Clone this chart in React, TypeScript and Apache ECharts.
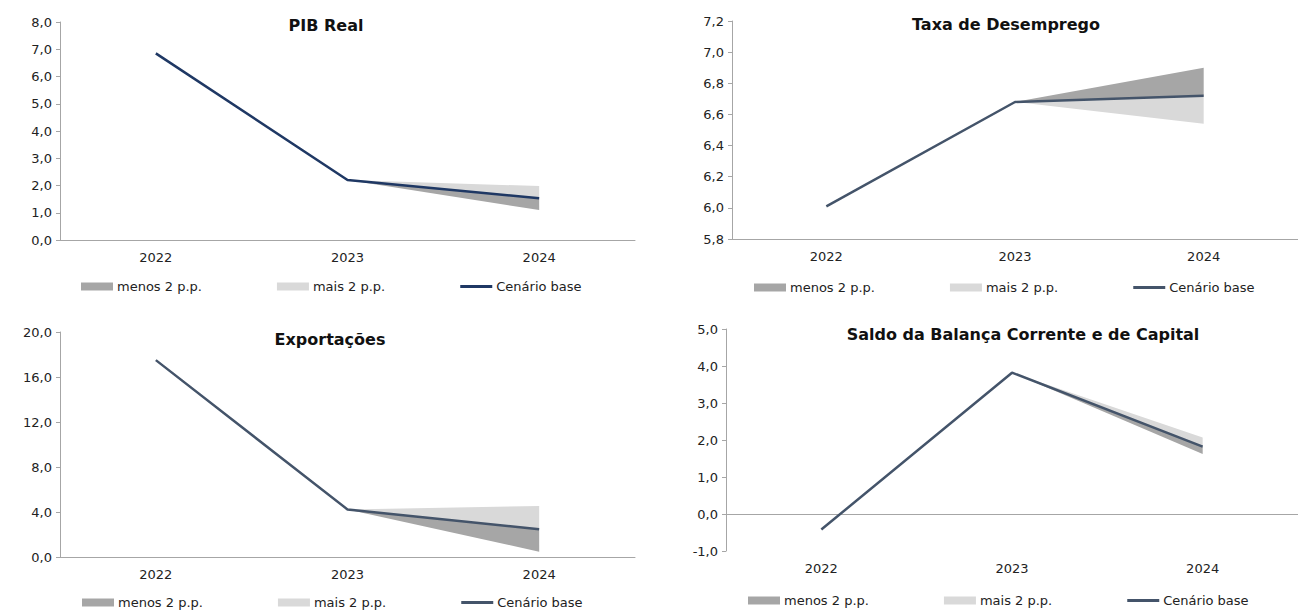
import React, { useEffect, useRef } from "react";
import * as echarts from "echarts";

const years = ["2022", "2023", "2024"];

const pibBase = [6.85, 2.2, 1.53];
const pibMenos = [null, 2.2, 1.1];
const pibMais = [null, 2.2, 1.98];

const desBase = [6.01, 6.68, 6.72];
const desMenos = [null, 6.68, 6.9];
const desMais = [null, 6.68, 6.54];

const expBase = [17.5, 4.23, 2.47];
const expMenos = [null, 4.23, 0.47];
const expMais = [null, 4.23, 4.53];

const balBase = [-0.42, 3.82, 1.82];
const balMenos = [null, 3.82, 1.62];
const balMais = [null, 3.82, 2.07];

const titles = ["PIB Real", "Taxa de Desemprego", "Exportações", "Saldo da Balança Corrente e de Capital"];
const legendNames = ["menos 2 p.p.", "mais 2 p.p.", "Cenário base"];

const FONT = "DejaVu Sans";
const DARK = "#a6a6a6";
const LIGHT = "#d9d9d9";
const AXIS = "#a6a6a6";
const TEXT = "#222222";

const panels = [
  { base: pibBase, menos: pibMenos, mais: pibMais, min: 0, max: 8, interval: 1, line: "#1f3864",
    grid: { left: 60, top: 22, width: 575, height: 218 }, title: [326, 25], legend: [81, 280], zeroLine: false },
  { base: desBase, menos: desMenos, mais: desMais, min: 5.8, max: 7.2, interval: 0.2, line: "#44546a",
    grid: { left: 732, top: 21, width: 581, height: 218 }, title: [1006, 24], legend: [754, 281], zeroLine: false },
  { base: expBase, menos: expMenos, mais: expMais, min: 0, max: 20, interval: 4, line: "#44546a",
    grid: { left: 60, top: 332, width: 575, height: 225 }, title: [330, 339], legend: [82, 596], zeroLine: false },
  { base: balBase, menos: balMenos, mais: balMais, min: -1, max: 5, interval: 1, line: "#44546a",
    grid: { left: 726, top: 329, width: 582, height: 222 }, title: [1023, 334], legend: [748, 594], zeroLine: true },
];

function fmt(v: number) {
  return v.toFixed(1).replace(".", ",");
}

function buildOption() {
  const grid: any[] = [];
  const xAxis: any[] = [];
  const yAxis: any[] = [];
  const series: any[] = [];
  const legend: any[] = [];
  const graphic: any[] = [];

  panels.forEach((p, i) => {
    grid.push({ ...p.grid, containLabel: false });
    xAxis.push({
      type: "category",
      gridIndex: i,
      data: years,
      boundaryGap: true,
      axisTick: { show: false },
      axisLine: { show: !p.zeroLine, onZero: false, lineStyle: { color: AXIS, width: 1 } },
      axisLabel: { color: TEXT, fontSize: 13, fontFamily: FONT, margin: 11 },
      splitLine: { show: false },
    });
    yAxis.push({
      type: "value",
      gridIndex: i,
      min: p.min,
      max: p.max,
      interval: p.interval,
      axisLine: { show: true, lineStyle: { color: AXIS, width: 1 } },
      axisTick: { show: true, length: 4, lineStyle: { color: AXIS } },
      axisLabel: { color: TEXT, fontSize: 13, fontFamily: FONT, margin: 8, formatter: (v: number) => fmt(v) },
      splitLine: { show: false },
    });

    const menosBelow = (p.menos[2] as number) < p.base[2];
    const lowArr = menosBelow ? p.menos : p.mais;
    const lowName = menosBelow ? legendNames[0] : legendNames[1];
    const lowColor = menosBelow ? DARK : LIGHT;
    const highArr = menosBelow ? p.mais : p.menos;
    const highName = menosBelow ? legendNames[1] : legendNames[0];
    const highColor = menosBelow ? LIGHT : DARK;
    const stack = "band" + i;

    series.push({
      type: "line",
      name: "helper" + i,
      xAxisIndex: i,
      yAxisIndex: i,
      stack,
      data: lowArr.map((v) => (v == null ? "-" : v)),
      showSymbol: false,
      symbol: "none",
      lineStyle: { opacity: 0, width: 0 },
      silent: true,
      z: 1,
    });
    series.push({
      type: "line",
      name: lowName,
      xAxisIndex: i,
      yAxisIndex: i,
      stack,
      data: lowArr.map((v, k) => (v == null ? "-" : +(p.base[k] - v).toFixed(4))),
      showSymbol: false,
      symbol: "none",
      lineStyle: { width: 0, color: lowColor },
      itemStyle: { color: lowColor },
      areaStyle: { color: lowColor, opacity: 1 },
      z: 2,
    });
    series.push({
      type: "line",
      name: highName,
      xAxisIndex: i,
      yAxisIndex: i,
      stack,
      data: highArr.map((v, k) => (v == null ? "-" : +((v as number) - p.base[k]).toFixed(4))),
      showSymbol: false,
      symbol: "none",
      lineStyle: { width: 0, color: highColor },
      itemStyle: { color: highColor },
      areaStyle: { color: highColor, opacity: 1 },
      z: 2,
    });
    const baseSeries: any = {
      type: "line",
      name: legendNames[2],
      xAxisIndex: i,
      yAxisIndex: i,
      data: p.base,
      showSymbol: false,
      symbol: "none",
      lineStyle: { width: 2.5, color: p.line },
      itemStyle: { color: p.line },
      z: 5,
    };
    if (p.zeroLine) {
      baseSeries.markLine = {
        silent: true,
        symbol: "none",
        label: { show: false },
        lineStyle: { color: AXIS, width: 1, type: "solid" },
        data: [{ yAxis: 0 }],
        z: 1,
      };
    }
    series.push(baseSeries);

    legend.push({
      left: p.legend[0],
      top: p.legend[1],
      padding: 0,
      orient: "horizontal",
      itemGap: 75,
      itemWidth: 32,
      itemHeight: 8,
      symbolKeepAspect: true,
      selectedMode: false,
      textStyle: { color: TEXT, fontSize: 13, fontFamily: FONT, padding: [0, 0, 0, -1] },
      data: [
        { name: legendNames[0], icon: "rect", itemStyle: { color: DARK } },
        { name: legendNames[1], icon: "rect", itemStyle: { color: LIGHT } },
        { name: legendNames[2], icon: "path://M0,0h32v3h-32z", itemStyle: { color: p.line } },
      ],
    });

    graphic.push({
      type: "text",
      x: p.title[0],
      y: p.title[1],
      silent: true,
      style: {
        text: titles[i],
        fill: "#111111",
        fontSize: 16,
        fontWeight: "bold",
        fontFamily: FONT,
        align: "center",
        verticalAlign: "middle",
      },
    });
  });

  return {
    animation: false,
    backgroundColor: "#ffffff",
    textStyle: { fontFamily: FONT },
    grid,
    xAxis,
    yAxis,
    series,
    legend,
    graphic,
  };
}

export default function App() {
  const ref = useRef<HTMLDivElement>(null);
  useEffect(() => {
    if (!ref.current) return;
    const chart = echarts.init(ref.current, undefined, { renderer: "svg" });
    chart.setOption(buildOption() as any);
    return () => chart.dispose();
  }, []);
  return (
    <div
      ref={ref}
      style={{ position: "absolute", left: 0, top: 0, width: 1298, height: 610, overflow: "hidden", background: "#fff" }}
    />
  );
}
